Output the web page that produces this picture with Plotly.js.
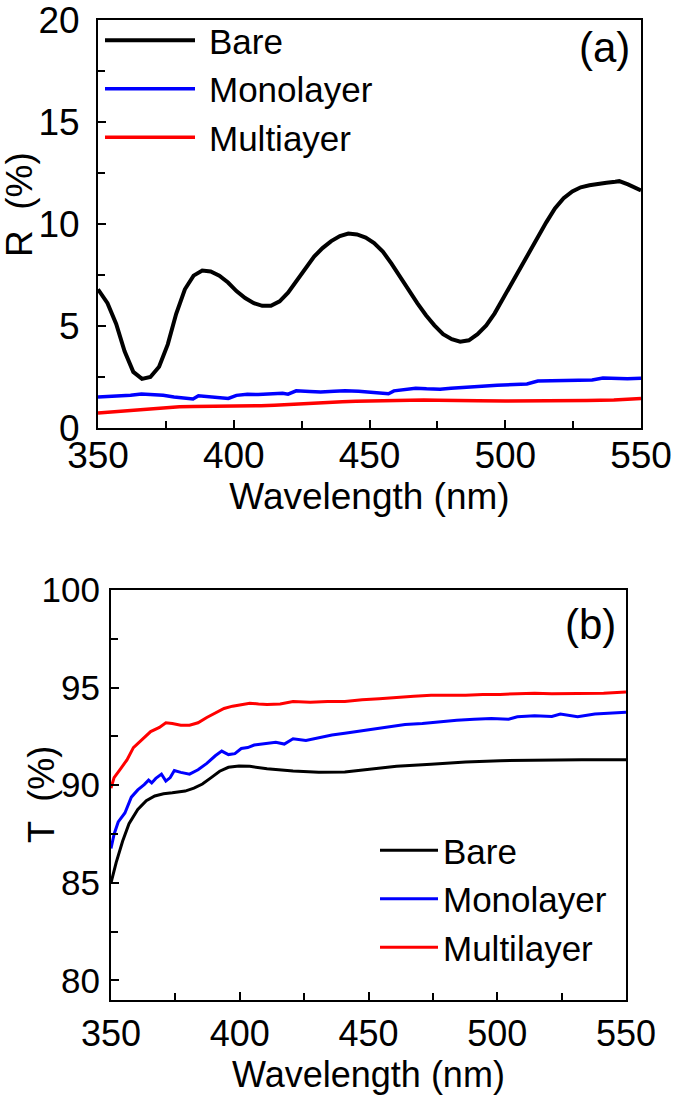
<!DOCTYPE html>
<html>
<head>
<meta charset="utf-8">
<script src="https://cdn.plot.ly/plotly-3.0.1.min.js"></script>
<style>html,body{margin:0;padding:0;background:#fff;}#chart{width:675px;height:1096px;}</style>
</head>
<body>
<div id="chart"></div>
<script>
// ---------- Panel (a): Reflectance ----------
const rBareX = [350,353.5,356.7,359.8,363,366.2,369.3,372.5,375.7,378.8,382,385.2,388.4,391.5,394.7,397.9,401,404.2,407.4,410.5,413.7,416.9,420,423.2,426.4,429.6,432.7,435.9,439.1,442.2,445.4,448.6,451.7,454.9,458.1,461.3,464.4,467.6,470.8,473.9,477.1,480.3,483.4,486.6,489.8,493,496.1,499.3,502.5,505.6,508.8,512,515.1,518.3,521.5,524.7,527.8,531,534.2,537.3,540.5,542,545.2,550];
const rBareY = [6.8,6.12,5.1,3.76,2.75,2.41,2.5,3.0,4.1,5.6,6.8,7.47,7.72,7.67,7.47,7.13,6.71,6.37,6.12,5.99,5.99,6.21,6.63,7.22,7.81,8.4,8.82,9.16,9.41,9.53,9.49,9.33,9.07,8.65,8.06,7.39,6.71,6.12,5.53,5.03,4.6,4.35,4.23,4.3,4.6,5.03,5.62,6.37,7.13,7.89,8.65,9.41,10.08,10.76,11.26,11.6,11.8,11.9,11.94,12.02,12.07,12.1,11.94,11.65];

const rMonoX = [350,356,362,366,370,374,378,382,385,387,390,395,398,401,405,409,414,418,420,423,428,432,437,441,446,450,454,457,459,463,467,471,476,480,484,490,497,504,508,512,520,526,532,536,540,545,550];
const rMonoY = [1.52,1.54,1.6,1.67,1.64,1.6,1.52,1.47,1.42,1.58,1.55,1.5,1.45,1.6,1.66,1.64,1.66,1.7,1.66,1.82,1.79,1.77,1.8,1.83,1.8,1.76,1.72,1.68,1.82,1.88,1.95,1.92,1.9,1.95,1.97,2.03,2.1,2.12,2.16,2.3,2.33,2.33,2.35,2.45,2.43,2.42,2.44];

const rMultiX = [350,355,360,366,370,375,380,385,390,395,400,405,410,415,420,425,430,435,440,445,450,455,460,465,470,475,480,490,500,510,520,530,540,545,550];
const rMultiY = [0.73,0.78,0.84,0.93,0.97,1.02,1.04,1.05,1.06,1.05,1.04,1.06,1.09,1.12,1.16,1.2,1.24,1.27,1.29,1.31,1.33,1.35,1.36,1.37,1.37,1.36,1.34,1.33,1.32,1.32,1.33,1.35,1.37,1.4,1.44];

// ---------- Panel (b): Transmittance ----------
const tBareX = [350,352,354.5,357,360.4,363.7,367,370.4,373.8,378.8,382.2,385.5,388.9,392.2,395.6,399.7,403.9,410.6,420.7,430.7,440.8,450.8,460.9,474.3,487.7,501.1,517.8,532.9,550];
const tBareY = [85.0,86.04,87.13,88.03,88.76,89.21,89.45,89.56,89.61,89.7,89.85,90.06,90.39,90.72,90.92,90.99,90.97,90.84,90.73,90.66,90.68,90.84,90.97,91.08,91.19,91.26,91.3,91.3,91.3];

const tMonoX = [350,351.2,352.8,355.4,357.9,360.4,362.9,364.6,365.8,367.4,369.6,371.3,373,374.6,377.1,380.5,383.8,387.2,390.5,393,395.6,398.1,400.6,403.1,405.6,409,414,417.3,420.7,425.7,430.7,435.8,440.8,445.8,450.8,457.5,464.2,470.9,477.6,484.3,491,497.7,504.4,507.8,514.5,521.2,524.5,531.2,537.9,544.6,550];
const tMonoY = [86.76,87.49,88.12,88.58,89.39,89.76,90.03,90.26,90.12,90.35,90.57,90.21,90.39,90.75,90.66,90.57,90.79,91.12,91.51,91.75,91.57,91.62,91.88,91.93,92.06,92.11,92.2,92.11,92.38,92.29,92.44,92.57,92.66,92.75,92.84,92.96,93.11,93.16,93.25,93.33,93.38,93.42,93.38,93.51,93.56,93.52,93.65,93.51,93.65,93.71,93.74];

const tMultiX = [350,351.2,353.7,356.2,358.7,362.1,365.4,368.8,371.3,373.8,377.1,380.5,383.8,387.2,390.5,393.9,397.2,400.6,403.9,407.3,410.6,415.7,420.7,427.4,434.1,440.8,447.5,454.2,460.9,467.6,474.3,481,487.7,494.4,501.1,507.8,514.5,521.2,527.9,534.6,541.3,550];
const tMultiY = [89.85,90.39,90.84,91.3,91.93,92.35,92.75,92.96,93.2,93.16,93.07,93.07,93.2,93.47,93.69,93.93,94.05,94.12,94.2,94.16,94.14,94.16,94.29,94.25,94.29,94.29,94.38,94.43,94.51,94.56,94.61,94.61,94.61,94.65,94.65,94.69,94.71,94.69,94.69,94.69,94.71,94.78];

const xTicks = [350,400,450,500,550];
const rTicks = [0,5,10,15,20];
const tTicks = [80,85,90,95,100];
const namesA = ['Bare','Monolayer','Multiayer'];
const namesB = ['Bare','Monolayer','Multilayer'];
const colors = ['#000000','#0000ff','#ff0000'];

const FONT = '"Liberation Sans", Arial, sans-serif';

const traces = [
  {x:rBareX,y:rBareY,name:namesA[0],line:{color:colors[0],width:4},xaxis:'x',yaxis:'y',legend:'legend'},
  {x:rMonoX,y:rMonoY,name:namesA[1],line:{color:colors[1],width:3.5},xaxis:'x',yaxis:'y',legend:'legend'},
  {x:rMultiX,y:rMultiY,name:namesA[2],line:{color:colors[2],width:3.5},xaxis:'x',yaxis:'y',legend:'legend'},
  {x:tBareX,y:tBareY,name:namesB[0],line:{color:colors[0],width:3},xaxis:'x2',yaxis:'y2',legend:'legend2'},
  {x:tMonoX,y:tMonoY,name:namesB[1],line:{color:colors[1],width:3},xaxis:'x2',yaxis:'y2',legend:'legend2'},
  {x:tMultiX,y:tMultiY,name:namesB[2],line:{color:colors[2],width:3},xaxis:'x2',yaxis:'y2',legend:'legend2'}
].map(t => Object.assign({type:'scatter',mode:'lines'}, t));

function xAxis(domain, anchor, size, labelStandoff, titleStandoff) {
  return {
    domain: domain, anchor: anchor, range:[350,550], tickvals: xTicks,
    ticks:'inside', ticklen:8, tickwidth:2, tickcolor:'#000',
    minor:{dtick:25, tick0:350, ticks:'inside', ticklen:7, tickwidth:2, tickcolor:'#000'},
    showline:true, linewidth:2, linecolor:'#000', mirror:true,
    showgrid:false, zeroline:false, ticklabelstandoff: labelStandoff, ticklabeloverflow:'allow',
    tickfont:{family:FONT, size:size, color:'#000'},
    title:{text:'Wavelength (nm)', font:{family:FONT, size:size, color:'#000'}, standoff: titleStandoff}
  };
}
function yAxis(domain, anchor, range, ticks, minorStep, size, tso) {
  return {
    domain: domain, anchor: anchor, range: range, tickvals: ticks,
    ticks:'inside', ticklen:8, tickwidth:2, tickcolor:'#000',
    minor:{dtick:minorStep, tick0:0, ticks:'inside', ticklen:7, tickwidth:2, tickcolor:'#000'},
    showline:true, linewidth:2, linecolor:'#000', mirror:true,
    showgrid:false, zeroline:false, ticklabelstandoff: tso, ticklabeloverflow:'allow',
    tickfont:{family:FONT, size:size, color:'#000'}
  };
}

const layout = {
  width:675, height:1096,
  margin:{l:0,r:0,t:0,b:0},
  paper_bgcolor:'#fff', plot_bgcolor:'#fff',
  showlegend:true,
  font:{family:FONT, color:'#000'},
  xaxis: xAxis([98/675, 641/675], 'y', 37, -6, 0),
  yaxis: yAxis([1-428/1096, 1-20/1096], 'x', [0,20], rTicks, 2.5, 37, 9),
  xaxis2: xAxis([111/675, 626/675], 'y2', 36, 1, 2),
  yaxis2: yAxis([1-1000/1096, 1-590/1096], 'x2', [79,100], tTicks, 2.5, 35, 2),
  legend:{x:100/675, y:1-11/1096, xanchor:'left', yanchor:'top', bgcolor:'rgba(0,0,0,0)',
          font:{family:FONT, size:35, color:'#000'}, itemwidth:90, tracegroupgap:0},
  legend2:{x:375/675, y:1-821/1096, xanchor:'left', yanchor:'top', bgcolor:'rgba(0,0,0,0)',
          font:{family:FONT, size:35, color:'#000'}, itemwidth:58, tracegroupgap:0},
  annotations:[
    {text:'R  (%)', xref:'paper', yref:'paper', x:20/675, y:1-205/1096, showarrow:false, textangle:-90,
     xanchor:'center', yanchor:'middle', font:{family:FONT, size:37, color:'#000'}},
    {text:'T  (%)', xref:'paper', yref:'paper', x:41/675, y:1-795/1096, showarrow:false, textangle:-90,
     xanchor:'center', yanchor:'middle', font:{family:FONT, size:36, color:'#000'}},
    {text:'(a)', xref:'paper', yref:'paper', x:604/675, y:1-48/1096, showarrow:false,
     xanchor:'center', yanchor:'middle', font:{family:FONT, size:42, color:'#000'}},
    {text:'(b)', xref:'paper', yref:'paper', x:590/675, y:1-624/1096, showarrow:false,
     xanchor:'center', yanchor:'middle', font:{family:FONT, size:42, color:'#000'}}
  ]
};

Plotly.newPlot('chart', traces, layout, {staticPlot:true, displayModeBar:false}).then(function(gd){
  gd.querySelectorAll('g.legend .scrollbox, g.legend2 .scrollbox').forEach(function(el){
    el.removeAttribute('clip-path');
  });
  function shiftText(sel, dx){
    gd.querySelectorAll(sel).forEach(function(t){
      var x = parseFloat(t.getAttribute('x')) || 0;
      t.setAttribute('x', x + dx);
    });
  }
  shiftText('g.legend text.legendtext', 9);
  shiftText('g.legend2 text.legendtext', 4);
});
</script>
</body>
</html>
